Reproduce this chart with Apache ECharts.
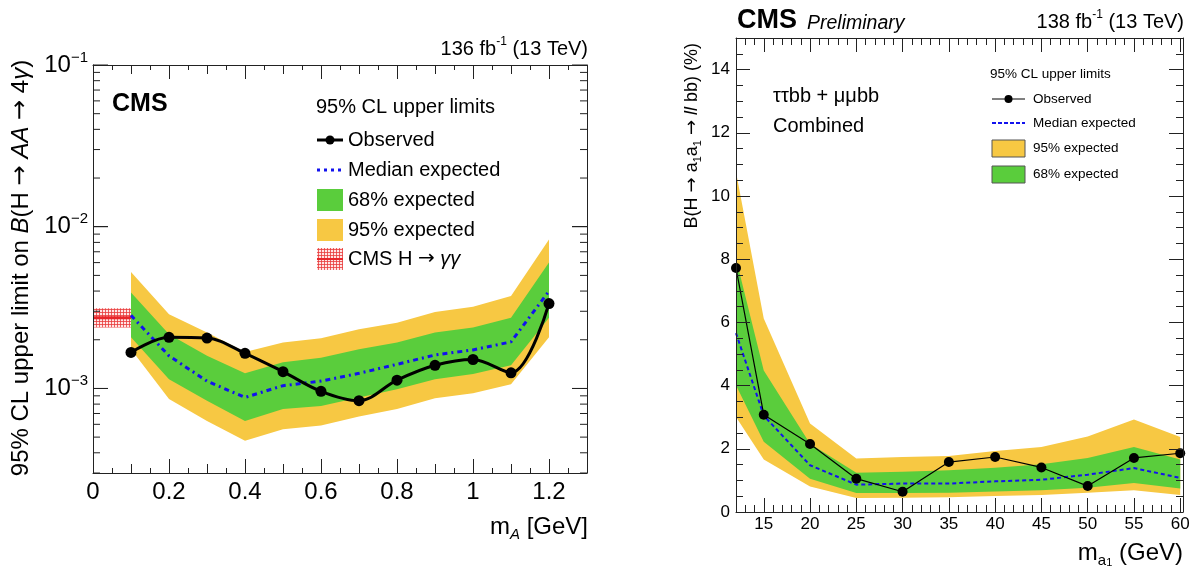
<!DOCTYPE html>
<html><head><meta charset="utf-8">
<script src="https://cdn.jsdelivr.net/npm/echarts@6.0.0/dist/echarts.min.js"></script>
<style>html,body{margin:0;padding:0;background:#fff}#c{width:1197px;height:571px}</style>
</head><body><div id="c"></div>
<script>
// ---------- Left panel: H -> AA -> 4 gamma (log scale) ----------
const massA  = [0.1, 0.2, 0.3, 0.4, 0.5, 0.6, 0.7, 0.8, 0.9, 1.0, 1.1, 1.2];
const obsA   = [1.67e-3, 2.07e-3, 2.05e-3, 1.65e-3, 1.27e-3, 9.6e-4, 8.4e-4, 1.125e-3, 1.39e-3, 1.51e-3, 1.25e-3, 3.35e-3];
const expA   = [2.83e-3, 1.59e-3, 1.11e-3, 8.8e-4, 1.04e-3, 1.11e-3, 1.24e-3, 1.41e-3, 1.61e-3, 1.73e-3, 1.94e-3, 4.0e-3];
const g68LoA = [2.07e-3, 1.14e-3, 8.4e-4, 6.3e-4, 7.45e-4, 7.8e-4, 8.8e-4, 9.9e-4, 1.14e-3, 1.23e-3, 1.39e-3, 2.74e-3];
const g68HiA = [3.92e-3, 2.16e-3, 1.59e-3, 1.24e-3, 1.45e-3, 1.55e-3, 1.75e-3, 1.92e-3, 2.22e-3, 2.38e-3, 2.74e-3, 6.0e-3];
const y95LoA = [1.75e-3, 8.6e-4, 6.3e-4, 4.75e-4, 5.6e-4, 5.9e-4, 6.7e-4, 7.45e-4, 8.7e-4, 9.35e-4, 1.06e-3, 2.07e-3];
const y95HiA = [5.25e-3, 2.88e-3, 2.22e-3, 1.68e-3, 1.92e-3, 2.04e-3, 2.32e-3, 2.55e-3, 2.97e-3, 3.2e-3, 3.73e-3, 8.35e-3];
const ggMass    = [0, 0.1];
const ggCentral = [2.74e-3, 2.74e-3];
const ggLo      = [2.38e-3, 2.38e-3];
const ggHi      = [3.13e-3, 3.13e-3];
const yTicksA   = [1e-3, 1e-2, 1e-1];
const yMinorA   = [3e-4,4e-4,5e-4,6e-4,7e-4,8e-4,9e-4,2e-3,3e-3,4e-3,5e-3,6e-3,7e-3,8e-3,9e-3,2e-2,3e-2,4e-2,5e-2,6e-2,7e-2,8e-2,9e-2];

// ---------- Right panel: H -> a1a1 -> ll bb ----------
const massB  = [12, 15, 20, 25, 30, 35, 40, 45, 50, 55, 60];
const obsB   = [7.72, 3.08, 2.15, 1.055, 0.64, 1.58, 1.74, 1.41, 0.82, 1.71, 1.86];
const expB   = [5.66, 3.05, 1.48, 0.865, 0.90, 0.90, 0.97, 1.02, 1.18, 1.39, 1.08];
const g68LoB = [4.01, 2.22, 1.055, 0.60, 0.60, 0.61, 0.65, 0.69, 0.77, 0.92, 0.74];
const g68HiB = [8.02, 4.48, 2.16, 1.245, 1.27, 1.32, 1.40, 1.51, 1.71, 2.06, 1.66];
const y95LoB = [3.01, 1.66, 0.81, 0.44, 0.45, 0.47, 0.51, 0.54, 0.61, 0.69, 0.54];
const y95HiB = [10.76, 6.12, 2.80, 1.69, 1.74, 1.77, 1.93, 2.06, 2.39, 2.93, 2.37];
const xTicksB = [15, 20, 25, 30, 35, 40, 45, 50, 55, 60];

// ---------- styling ----------
const FONT = '"Liberation Sans", Arial, Helvetica, sans-serif';
const ARROWFONT = '"DejaVu Sans", "Liberation Sans", sans-serif';
const FRAME = '#222';
const YELLOW = '#f7c843', GREEN = '#5acd3c', BLUE = '#1212ee', RED = '#e8262a';
const lineS = {color: FRAME, width: 1};
const X_MIN_A = 0, X_MAX_A = 1.3;

function makeHatch() {
  const c = document.createElement('canvas'); c.width = 3; c.height = 3;
  const g = c.getContext('2d');
  g.fillStyle = 'rgba(255,220,220,0.75)'; g.fillRect(0, 0, 3, 3);
  g.fillStyle = 'rgba(232,60,60,0.8)';
  g.fillRect(0, 0, 3, 1); g.fillRect(0, 0, 1, 3);
  return c;
}
const HATCH = {image: makeHatch(), repeat: 'repeat'};

function ax(extra) {
  return Object.assign({
    type: 'value', z: 10, splitLine: {show: false},
    axisLine: {show: false, onZero: false},
    axisTick: {show: false}, axisLabel: {show: false},
    minorTick: {show: false}, minorSplitLine: {show: false}
  }, extra);
}
const lineOn = {show: true, onZero: false, lineStyle: lineS};
function ticks(len, extra) { return Object.assign({show: true, inside: true, length: len, lineStyle: lineS}, extra || {}); }

function powLabel(v) {
  const e = Math.round(Math.log10(v));
  return '{b|10}{s|\u2212' + (-e) + '}';
}

const xAxes = [
  // left panel (grid 0)
  ax({gridIndex: 0, min: X_MIN_A, max: X_MAX_A, interval: 0.2, position: 'bottom', axisLine: lineOn, axisTick: ticks(14),
      axisLabel: {show: true, margin: 7, color: '#000', fontFamily: FONT, fontSize: 24,
        formatter: v => (v > 1.25 ? '' : String(Math.round(v * 10) / 10))}}),
  ax({gridIndex: 0, min: X_MIN_A, max: X_MAX_A, interval: 0.1, position: 'bottom', axisTick: ticks(9),
      minorTick: {show: true, splitNumber: 2, length: 5, lineStyle: lineS}}),
  ax({gridIndex: 0, min: X_MIN_A, max: X_MAX_A, interval: 0.2, position: 'top', axisLine: lineOn, axisTick: ticks(14)}),
  ax({gridIndex: 0, min: X_MIN_A, max: X_MAX_A, interval: 0.1, position: 'top', axisTick: ticks(9),
      minorTick: {show: true, splitNumber: 2, length: 5, lineStyle: lineS}}),
  // right panel (grid 1)
  ax({gridIndex: 1, min: 12, max: 60.3, position: 'bottom', axisLine: lineOn, axisTick: ticks(14, {customValues: xTicksB}),
      axisLabel: {show: true, customValues: xTicksB, margin: 4, color: '#000', fontFamily: FONT, fontSize: 17}}),
  ax({gridIndex: 1, min: 12, max: 60.3, interval: 1, position: 'bottom', axisTick: ticks(7)}),
  ax({gridIndex: 1, min: 12, max: 60.3, position: 'top', axisLine: lineOn, axisTick: ticks(14, {customValues: xTicksB})}),
  ax({gridIndex: 1, min: 12, max: 60.3, interval: 1, position: 'top', axisTick: ticks(7)})
];

const supRich = {
  b: {fontSize: 24, lineHeight: 30, fontFamily: FONT, color: '#000'},
  s: {fontSize: 15, lineHeight: 15, verticalAlign: 'top', fontFamily: FONT, color: '#000'}
};

const yAxes = [
  ax({gridIndex: 0, type: 'log', logBase: 10, min: 3e-4, max: 0.1, position: 'left', axisLine: lineOn,
      axisTick: ticks(15, {customValues: yTicksA}),
      axisLabel: {show: true, customValues: yTicksA, margin: 5, formatter: powLabel, rich: supRich}}),
  ax({gridIndex: 0, type: 'log', logBase: 10, min: 3e-4, max: 0.1, position: 'right', axisLine: lineOn,
      axisTick: ticks(15, {customValues: yTicksA})}),
  ax({gridIndex: 1, min: 0, max: 15, interval: 2, position: 'left', axisLine: lineOn, axisTick: ticks(14),
      minorTick: {show: true, splitNumber: 4, length: 7, lineStyle: lineS},
      axisLabel: {show: true, margin: 6, color: '#000', fontFamily: FONT, fontSize: 17,
        formatter: v => (v > 14.5 ? '' : String(v))}}),
  ax({gridIndex: 1, min: 0, max: 15, interval: 2, position: 'right', axisLine: lineOn, axisTick: ticks(14),
      minorTick: {show: true, splitNumber: 4, length: 7, lineStyle: lineS}})
];

function band(name, xs, lo, hi, fill, xi, yi, z) {
  return {
    type: 'custom', name, xAxisIndex: xi, yAxisIndex: yi, z, silent: true, clip: true,
    data: xs.map((x, i) => [x, lo[i], hi[i]]),
    encode: {x: 0, y: [1, 2]},
    renderItem: (params, api) => {
      if (params.dataIndex !== 0) return {type: 'group', children: []};
      const pts = [];
      for (let i = 0; i < xs.length; i++) pts.push(api.coord([xs[i], hi[i]]));
      for (let i = xs.length - 1; i >= 0; i--) pts.push(api.coord([xs[i], lo[i]]));
      return {type: 'polygon', shape: {points: pts}, style: {fill: fill, stroke: null}};
    }
  };
}
// log-axis tick marks on both sides of the left frame, placed through the axis scale
function logTicks(values, len) {
  return {
    type: 'custom', xAxisIndex: 0, yAxisIndex: 0, z: 11, silent: true, clip: false,
    data: values.map(v => [X_MIN_A, v]),
    encode: {x: 0, y: 1},
    renderItem: (params, api) => {
      const v = values[params.dataIndex];
      const pL = api.coord([X_MIN_A, v]), pR = api.coord([X_MAX_A, v]);
      return {type: 'group', children: [
        {type: 'line', shape: {x1: pL[0], y1: pL[1], x2: pL[0] + len, y2: pL[1]}, style: {stroke: FRAME, lineWidth: 1}},
        {type: 'line', shape: {x1: pR[0], y1: pR[1], x2: pR[0] - len, y2: pR[1]}, style: {stroke: FRAME, lineWidth: 1}}
      ]};
    }
  };
}
function pairs(xs, ys) { return xs.map((x, i) => [x, ys[i]]); }

const series = [
  band('95% expected', massA, y95LoA, y95HiA, YELLOW, 0, 0, 1),
  band('68% expected', massA, g68LoA, g68HiA, GREEN, 0, 0, 2),
  band('CMS H\u2192\u03b3\u03b3', ggMass, ggLo, ggHi, HATCH, 0, 0, 2),
  {type: 'line', name: 'CMS H\u2192\u03b3\u03b3 central', xAxisIndex: 0, yAxisIndex: 0, z: 3, data: pairs(ggMass, ggCentral),
   showSymbol: false, lineStyle: {color: RED, width: 3}, silent: true},
  {type: 'line', name: 'Median expected', xAxisIndex: 0, yAxisIndex: 0, z: 4, data: pairs(massA, expA),
   showSymbol: false, lineStyle: {color: BLUE, width: 3, type: [5, 4, 2, 4]}, silent: true},
  {type: 'line', name: 'Observed', xAxisIndex: 0, yAxisIndex: 0, z: 5, data: pairs(massA, obsA), smooth: 0.35,
   symbol: 'circle', symbolSize: 11, itemStyle: {color: '#000'}, lineStyle: {color: '#000', width: 3}, silent: true},
  logTicks(yMinorA, 7),
  logTicks(yTicksA, 15),

  band('95% expected', massB, y95LoB, y95HiB, YELLOW, 4, 2, 1),
  band('68% expected', massB, g68LoB, g68HiB, GREEN, 4, 2, 2),
  {type: 'line', name: 'Median expected', xAxisIndex: 4, yAxisIndex: 2, z: 4, data: pairs(massB, expB),
   showSymbol: false, lineStyle: {color: BLUE, width: 2, type: [4, 3]}, silent: true},
  {type: 'line', name: 'Observed', xAxisIndex: 4, yAxisIndex: 2, z: 5, data: pairs(massB, obsB),
   symbol: 'circle', symbolSize: 10, itemStyle: {color: '#000'}, lineStyle: {color: '#000', width: 1.2}, silent: true}
];

function txt(x, y, text, size, extra) {
  return {type: 'text', x, y, z: 20, silent: true,
    style: Object.assign({text, fontFamily: FONT, fontSize: size, fill: '#000', align: 'left', verticalAlign: 'middle'}, extra || {})};
}
const R = (fs) => ({
  sup: {fontSize: Math.round(fs * 0.62), lineHeight: Math.round(fs * 0.62), verticalAlign: 'top', fontFamily: FONT, fill: '#000'},
  sub: {fontSize: Math.round(fs * 0.62), lineHeight: Math.round(fs * 0.62), verticalAlign: 'bottom', fontFamily: FONT, fill: '#000'},
  subi: {fontSize: Math.round(fs * 0.62), lineHeight: Math.round(fs * 0.62), verticalAlign: 'bottom', fontStyle: 'italic', fontFamily: FONT, fill: '#000'},
  sub2: {fontSize: Math.round(fs * 0.45), lineHeight: Math.round(fs * 0.45), verticalAlign: 'bottom', fontFamily: FONT, fill: '#000'},
  it: {fontSize: fs, lineHeight: Math.round(fs * 1.3), fontStyle: 'italic', fontFamily: FONT, fill: '#000'},
  ar: {fontSize: fs, lineHeight: Math.round(fs * 1.3), fontFamily: ARROWFONT, fill: '#000'},
  n: {fontSize: fs, lineHeight: Math.round(fs * 1.3), fontFamily: FONT, fill: '#000'}
});

const graphics = [
  // left panel texts
  txt(112, 104, 'CMS', 25, {fontWeight: 'bold'}),
  txt(588, 49, '{n|136 fb}{sup|-1}{n| (13 TeV)}', 20, {align: 'right', rich: R(20)}),
  txt(588, 527, '{n|m}{subi|A}{n| [GeV]}', 24, {align: 'right', rich: R(24)}),
  Object.assign(txt(21, 268, '{n|95% CL upper limit on }{it|B}{n|(H }{ar|\u2192}{n| }{it|AA}{n| }{ar|\u2192}{n| 4}{it|\u03b3}{n|)}', 24,
      {align: 'center', rich: R(24)}), {rotation: Math.PI / 2}),
  // left legend
  txt(316, 107, '95% CL upper limits', 20),
  {type: 'line', z: 20, silent: true, shape: {x1: 317, y1: 140, x2: 343, y2: 140}, style: {stroke: '#000', lineWidth: 3}},
  {type: 'circle', z: 21, silent: true, shape: {cx: 330, cy: 140, r: 4.5}, style: {fill: '#000'}},
  txt(348, 140, 'Observed', 20),
  {type: 'line', z: 20, silent: true, shape: {x1: 317, y1: 170, x2: 343, y2: 170}, style: {stroke: BLUE, lineWidth: 3, lineDash: [3, 4]}},
  txt(348, 170, 'Median expected', 20),
  {type: 'rect', z: 20, silent: true, shape: {x: 317, y: 189, width: 26, height: 22}, style: {fill: GREEN}},
  txt(348, 200, '68% expected', 20),
  {type: 'rect', z: 20, silent: true, shape: {x: 317, y: 219, width: 26, height: 22}, style: {fill: YELLOW}},
  txt(348, 230, '95% expected', 20),
  {type: 'rect', z: 20, silent: true, shape: {x: 317, y: 248, width: 26, height: 22}, style: {fill: HATCH}},
  {type: 'line', z: 21, silent: true, shape: {x1: 317, y1: 259, x2: 343, y2: 259}, style: {stroke: RED, lineWidth: 2}},
  txt(348, 259, '{n|CMS H }{ar|\u2192}{n| }{it|\u03b3\u03b3}', 20, {rich: R(20)}),

  // right panel texts
  txt(737, 21, 'CMS', 27, {fontWeight: 'bold'}),
  txt(807, 24, 'Preliminary', 19.5, {fontStyle: 'italic'}),
  txt(1184, 22, '{n|138 fb}{sup|-1}{n| (13 TeV)}', 20, {align: 'right', rich: R(20)}),
  txt(773, 96, '\u03c4\u03c4bb + \u03bc\u03bcbb', 20),
  txt(773, 126, 'Combined', 20),
  txt(1183, 553, '{n|m}{sub|a}{sub2|1}{n| (GeV)}', 24, {align: 'right', rich: R(24)}),
  Object.assign(txt(692, 43, '{n|B(H }{ar|\u2192}{n| a}{sub|1}{n|a}{sub|1}{n| }{ar|\u2192}{n| }{it|ll}{n| bb) (%)}', 18,
      {align: 'right', rich: R(18)}), {rotation: Math.PI / 2}),
  // right legend
  txt(990, 74, '95% CL upper limits', 13.5),
  {type: 'line', z: 20, silent: true, shape: {x1: 992, y1: 99, x2: 1025, y2: 99}, style: {stroke: '#000', lineWidth: 1}},
  {type: 'circle', z: 21, silent: true, shape: {cx: 1008.5, cy: 99, r: 4}, style: {fill: '#000'}},
  txt(1033, 99, 'Observed', 13.5),
  {type: 'line', z: 20, silent: true, shape: {x1: 992, y1: 123, x2: 1025, y2: 123}, style: {stroke: BLUE, lineWidth: 2, lineDash: [4, 2]}},
  txt(1033, 123, 'Median expected', 13.5),
  {type: 'rect', z: 20, silent: true, shape: {x: 992, y: 140, width: 33, height: 17}, style: {fill: YELLOW, stroke: '#555', lineWidth: 1}},
  txt(1033, 148, '95% expected', 13.5),
  {type: 'rect', z: 20, silent: true, shape: {x: 992, y: 166, width: 33, height: 17}, style: {fill: GREEN, stroke: '#555', lineWidth: 1}},
  txt(1033, 174, '68% expected', 13.5)
];

const chart = echarts.init(document.getElementById('c'), null, {renderer: 'canvas'});
chart.setOption({
  animation: false,
  backgroundColor: '#fff',
  grid: [
    {left: 93, top: 65, width: 494, height: 408, containLabel: false},
    {left: 736, top: 38, width: 447, height: 474, containLabel: false}
  ],
  xAxis: xAxes,
  yAxis: yAxes,
  series: series,
  graphic: graphics
});
</script>
</body></html>
